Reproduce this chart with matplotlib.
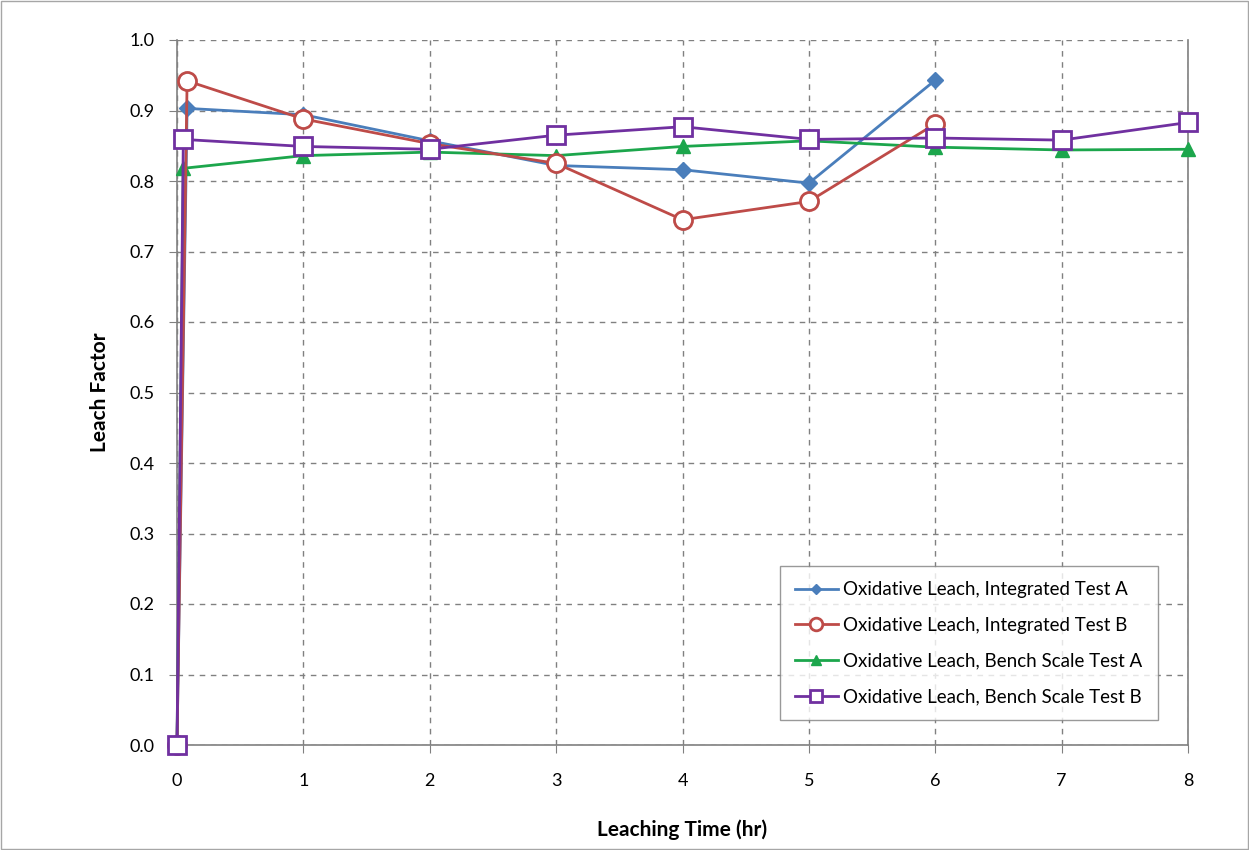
import matplotlib
matplotlib.use("Agg")
import matplotlib.pyplot as plt
import matplotlib.patches as patches

plt.rcParams['font.family'] = ['Lato', 'DejaVu Sans']

# Data
time_int = [0, 0.08, 1, 2, 3, 4, 5, 6]
int_a = [0.0, 0.903, 0.894, 0.857, 0.822, 0.816, 0.797, 0.943]
int_b = [0.0, 0.942, 0.888, 0.853, 0.825, 0.745, 0.771, 0.881]

time_bench = [0, 0.05, 1, 2, 3, 4, 5, 6, 7, 8]
bench_a = [0.0, 0.818, 0.836, 0.841, 0.836, 0.849, 0.857, 0.848, 0.844, 0.845]
bench_b = [0.0, 0.859, 0.849, 0.845, 0.865, 0.877, 0.859, 0.861, 0.858, 0.883]

labels = ["Oxidative Leach, Integrated Test A",
          "Oxidative Leach, Integrated Test B",
          "Oxidative Leach, Bench Scale Test A",
          "Oxidative Leach, Bench Scale Test B"]

fig = plt.figure(figsize=(12.49, 8.5), dpi=100)
ax = fig.add_axes([177 / 1249, 1 - 745 / 850, (1188 - 177) / 1249, (745 - 40) / 850])

# Thin border around the whole picture
fig.patches.append(patches.Rectangle((0.001, 0.001), 0.998, 0.998, transform=fig.transFigure,
                                     fill=False, edgecolor='#a6a6a6', linewidth=1))

ax.plot(time_int, int_a, color='#4a7ebb', lw=2, marker='D', ms=8,
        markerfacecolor='#4a7ebb', markeredgecolor='#4a7ebb', label=labels[0], zorder=3, clip_on=False)
ax.plot(time_int, int_b, color='#be4b48', lw=2, marker='o', ms=13,
        markerfacecolor='white', markeredgecolor='#be4b48', markeredgewidth=2, label=labels[1],
        zorder=4, clip_on=False)
ax.plot(time_bench, bench_a, color='#1ca64c', lw=2, marker='^', ms=10,
        markerfacecolor='#1ca64c', markeredgecolor='#1ca64c', label=labels[2], zorder=3, clip_on=False)
ax.plot(time_bench, bench_b, color='#7030a0', lw=2, marker='s', ms=13,
        markerfacecolor='white', markeredgecolor='#7030a0', markeredgewidth=2, label=labels[3],
        zorder=5, clip_on=False)

ax.set_xlim(0, 8)
ax.set_ylim(0, 1.0)
ax.set_xticks(range(0, 9))
ax.set_yticks([i / 10 for i in range(11)])
ax.set_yticklabels([f"{i / 10:.1f}" for i in range(11)])
ax.tick_params(axis='both', labelsize=13, color='#808080', length=6, direction='out')
ax.tick_params(axis='x', pad=14)
ax.tick_params(axis='y', pad=10)

ax.grid(True, linestyle=(0, (4, 4)), color='#808080', linewidth=1)
ax.set_axisbelow(True)
for side in ['left', 'bottom', 'right']:
    ax.spines[side].set_color('#808080')
    ax.spines[side].set_linewidth(1.2)
ax.spines['top'].set_visible(False)

ax.set_xlabel("Leaching Time (hr)", fontsize=15, fontweight='bold', labelpad=22)
ax.set_ylabel("Leach Factor", fontsize=15, fontweight='bold', labelpad=14)

leg = ax.legend(loc='lower right', bbox_to_anchor=(0.97, 0.035), borderaxespad=0, fontsize=13.5,
                frameon=True, fancybox=False, edgecolor='#808080', handlelength=2.3,
                labelspacing=1.0, borderpad=0.8, handletextpad=0.3, markerscale=0.7)
leg.get_frame().set_linewidth(1)

fig.savefig("out.png", dpi=100)
